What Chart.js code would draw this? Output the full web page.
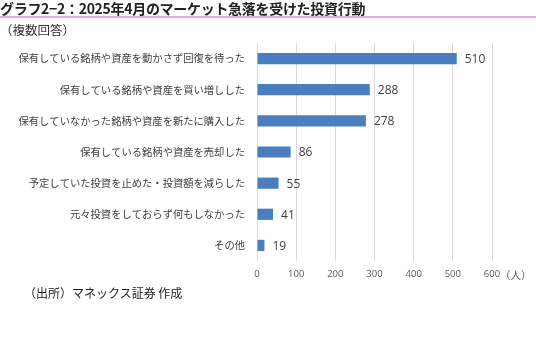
<!DOCTYPE html>
<html><head><meta charset="utf-8">
<script src="https://cdn.jsdelivr.net/npm/chart.js@4"></script>
<style>
html,body{margin:0;padding:0;background:#fff;}
#wrap{position:relative;width:536px;height:338px;overflow:hidden;}
canvas{position:absolute;left:0;top:0;}
.t{position:absolute;white-space:nowrap;font-family:"Noto Sans CJK JP",sans-serif;color:#222;}
#title{left:0;top:0;font-size:14px;font-weight:bold;line-height:17px;letter-spacing:-0.3px;}
#rule{position:absolute;left:0;top:16px;width:536px;height:2px;background:#f3a6f0;}
#sub{left:0;top:21px;font-size:12.5px;line-height:17px;color:#333;}
#src{left:24px;top:284px;font-size:12px;line-height:17px;color:#222;}
</style></head>
<body><div id="wrap">
<canvas id="c" width="536" height="338"></canvas>
<div class="t" id="title">グラフ2−2：2025年4月のマーケット急落を受けた投資行動</div>
<div id="rule"></div>
<div class="t" id="sub">（複数回答）</div>
<div class="t" id="src">（出所）マネックス証券 作成</div>
</div>
<script>
const categories = [
  "保有している銘柄や資産を動かさず回復を待った",
  "保有している銘柄や資産を買い増しした",
  "保有していなかった銘柄や資産を新たに購入した",
  "保有している銘柄や資産を売却した",
  "予定していた投資を止めた・投資額を減らした",
  "元々投資をしておらず何もしなかった",
  "その他"
];
const values = [510, 288, 278, 86, 55, 41, 19];
const unitLabel = "（人）";

const labelPlugin = {
  id: 'labels',
  afterDatasetsDraw(chart) {
    const ctx = chart.ctx;
    const meta = chart.getDatasetMeta(0);
    ctx.save();
    ctx.font = '12px "Open Sans", "Noto Sans", sans-serif';
    ctx.fillStyle = '#404040';
    ctx.textBaseline = 'middle';
    ctx.textAlign = 'left';
    meta.data.forEach((bar, i) => {
      ctx.fillText(String(values[i]), bar.x + 8, bar.y + 1);
    });
    const xs = chart.scales.x;
    ctx.font = '10.5px "Noto Sans CJK JP", sans-serif';
    ctx.fillStyle = '#595959';
    ctx.fillText(unitLabel, xs.getPixelForValue(600) + 8, xs.top + 14);
    ctx.restore();
  }
};

new Chart(document.getElementById('c'), {
  type: 'bar',
  data: {
    labels: categories,
    datasets: [{
      data: values,
      backgroundColor: '#4a7ebf',
      borderWidth: 0,
      barPercentage: 1,
      categoryPercentage: 0.36
    }]
  },
  options: {
    indexAxis: 'y',
    responsive: false,
    animation: false,
    devicePixelRatio: 1,
    layout: { padding: { top: 43, bottom: 58, left: 0, right: 44 } },
    plugins: { legend: { display: false }, tooltip: { enabled: false } },
    scales: {
      x: {
        min: 0, max: 600,
        afterFit(s) { s.height = 19; },
        ticks: { stepSize: 100, color: '#595959', font: { size: 9.5, family: '"Open Sans","Noto Sans",sans-serif' }, padding: 8 },
        grid: { color: '#d9d9d9', lineWidth: 1, drawTicks: false },
        border: { display: false }
      },
      y: {
        afterFit(s) { s.width = 257; },
        ticks: { color: '#404040', font: { size: 10.3, family: '"Noto Sans CJK JP",sans-serif' }, padding: 4, autoSkip: false },
        grid: { display: false },
        border: { display: false }
      }
    }
  },
  plugins: [labelPlugin]
});
</script>
</body></html>
